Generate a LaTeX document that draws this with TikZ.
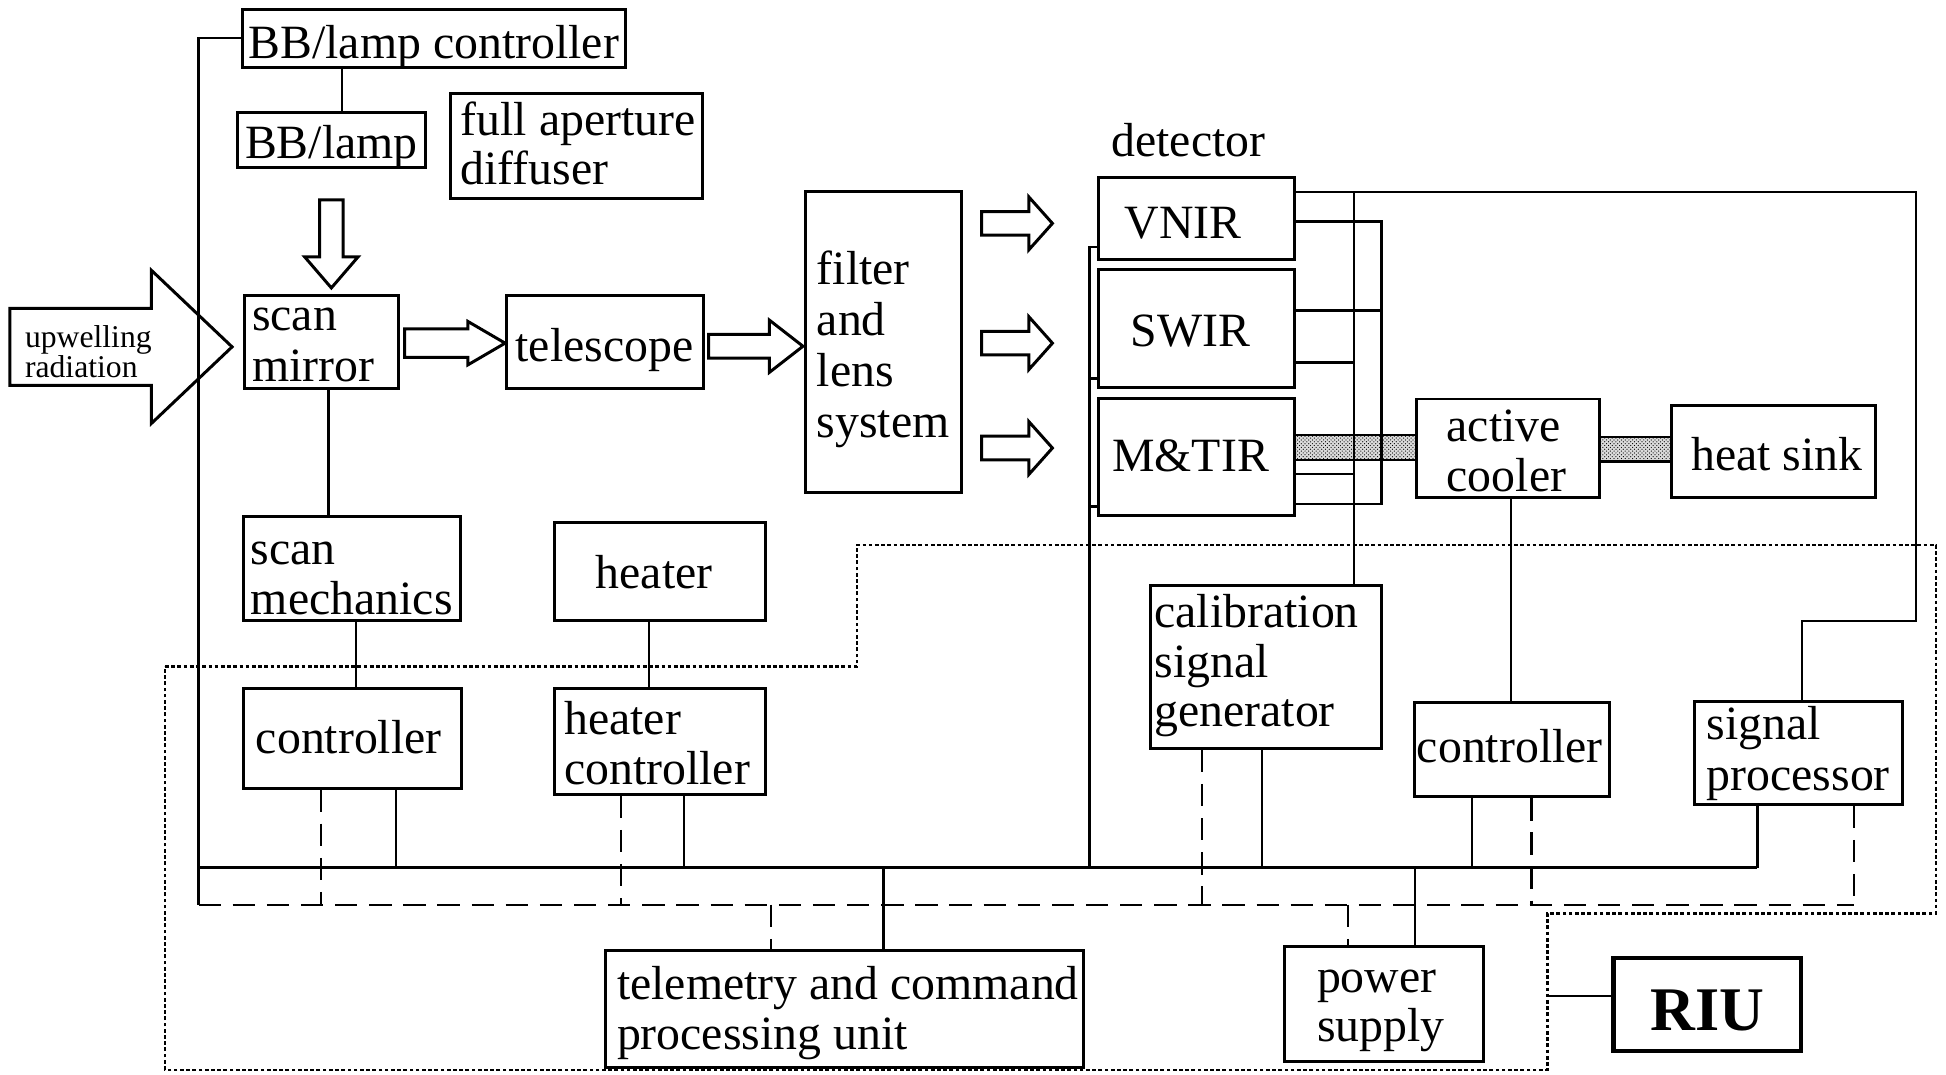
\documentclass[tikz,border=0pt]{standalone}
\usepackage{fontspec}
\setmainfont{Liberation Serif}
\usetikzlibrary{calc,patterns}

\newcommand\lbl{\fontsize{38.5pt}{41pt}\selectfont}
\newcommand\slbl{\fontsize{25.5pt}{25pt}\selectfont}
\newcommand\riuf{\fontsize{50pt}{50pt}\selectfont\bfseries}

% box node from its corners: [options]{name}{x1}{y1}{x2}{y2}
\newcommand\cbox[6][]{%
  \pgfmathsetmacro\bxcx{(#3+#5)/2}%
  \pgfmathsetmacro\bxcy{(#4+#6)/2}%
  \pgfmathsetmacro\bxw{#5-#3}%
  \pgfmathsetmacro\bxh{#6-#4}%
  \node[box,minimum width=\bxw pt,minimum height=\bxh pt,#1] (#2) at (\bxcx,\bxcy) {};}

% hollow block arrow pointing right: {tail}{tip}{shaft half}{head half}{head length}
\newcommand\rblock[5]{%
  \draw[hollow] let \p1=(#1), \p2=(#2) in
    (\x1,\y2+#3pt) -- (\x2-#5pt,\y2+#3pt) -- (\x2-#5pt,\y2+#4pt) -- (\x2,\y2)
    -- (\x2-#5pt,\y2-#4pt) -- (\x2-#5pt,\y2-#3pt) -- (\x1,\y2-#3pt) -- cycle;}
% hollow block arrow pointing down
\newcommand\dblock[5]{%
  \draw[hollow] let \p1=(#1), \p2=(#2) in
    (\x2-#3pt,\y1) -- (\x2-#3pt,\y2+#5pt) -- (\x2-#4pt,\y2+#5pt) -- (\x2,\y2)
    -- (\x2+#4pt,\y2+#5pt) -- (\x2+#3pt,\y2+#5pt) -- (\x2+#3pt,\y1) -- cycle;}

\begin{document}
\begin{tikzpicture}[x=1pt,y=-1pt,
  box/.style={draw,line width=2.4pt,inner sep=0pt,fill=white},
  txt/.style={font=\lbl,inner sep=0pt,anchor=base west,yshift=-2.5pt},
  ctxt/.style={font=\lbl,inner sep=0pt,anchor=base,yshift=-2.5pt},
  wire/.style={line width=1.9pt,line join=miter},
  dwire/.style={line width=1.9pt,dash pattern=on 18pt off 9.5pt},
  border/.style={line width=2.1pt,dash pattern=on 3pt off 2pt},
  hollow/.style={draw,line width=2.4pt,fill=white,line join=miter},
  heatfill/.style={fill=black!14},
  heatbar/.style={pattern=crosshatch dots,pattern color=black},
]
\useasboundingbox (0,0) rectangle (1568,866);
\fill[white] (0,0) rectangle (1568,866);

% ---------- blocks ----------
\cbox{bbctl}{195}{7.5}{504}{54}
\cbox{bblamp}{191}{91}{343}{135}
\cbox{diff}{363}{75}{566}{160}
\cbox{scanm}{197}{238}{321}{313}
\cbox{tele}{408}{238}{567}{313}
\cbox{filt}{649}{154}{775}{397}
\cbox{vnir}{885}{143}{1043}{209}
\cbox{swir}{885}{217}{1043}{312}
\cbox{mtir}{885}{321}{1043}{415}
\cbox{cool}{1141}{321.5}{1289}{401}
\cbox{sink}{1347}{327}{1511}{401}
\cbox{mech}{196}{416}{371}{500}
\cbox{heat}{447}{421}{617}{500}
\cbox{calib}{927}{472}{1113}{603}
\cbox{ctlL}{196}{555}{372}{635}
\cbox{hctl}{447}{555}{617}{640}
\cbox{ctlR}{1140}{566}{1297}{642}
\cbox{sigp}{1365}{565}{1533}{648}
\cbox{tcpu}{488}{766}{873}{860}
\cbox{psu}{1035}{763}{1195}{855}
\cbox[line width=3.4pt]{riu}{1300}{772}{1451}{847}

% ---------- wire positions ----------
\coordinate (busSL) at (160,699);
\coordinate (busSR) at (1416,699);
\coordinate (busDL) at (160,729);
\coordinate (busDR) at (1494,729);
\foreach \n/\v in {xa/275.6,xb/264.8,xc/287,xd/523,xe/319,xf/258.6,xg/551,xh/500.5,
                   xi/712,xj/621,xk/878,xl/1017,xm/968.6,xn/1186,xo/1234,xr/1140,
                   xs/1086,xt/1217.6,xu/1452,xv/1091,xw/1113,xz/1246.7}
  \coordinate (\n) at (\v,0);
\foreach \n/\v in {ya/199,yb/305,yc/408,y1/154.5,y2/178.6,y3/250.3,y4/292,y5/382,
                   y7/406,yR/802.6,hb1t/350.5,hb1b/370.7,hb2t/352,hb2b/372}
  \coordinate (\n) at (0,\v);
\coordinate (c1) at (1543.7,500.4);

% ---------- electronics boundary ----------
\draw[border] (133,537) -- (690.6,537) -- (690.6,439) -- (1560,439) -- (1560,736)
  -- (1246.7,736) -- (1246.7,862) -- (133,862) -- cycle;

% ---------- thermal links ----------
\path[heatfill] (mtir.east |- hb1t) rectangle (cool.west |- hb1b);
\path[heatbar] (mtir.east |- hb1t) rectangle (cool.west |- hb1b);
\draw[wire] (mtir.east |- hb1t) -- (cool.west |- hb1t) (mtir.east |- hb1b) -- (cool.west |- hb1b);
\path[heatfill] (cool.east |- hb2t) rectangle (sink.west |- hb2b);
\path[heatbar] (cool.east |- hb2t) rectangle (sink.west |- hb2b);
\draw[wire] (cool.east |- hb2t) -- (sink.west |- hb2t) (cool.east |- hb2b) -- (sink.west |- hb2b);

% ---------- optical path ----------
\coordinate (upT) at (8,279.5);   \coordinate (upH) at (187,279.5);
\coordinate (dnT) at (267,161);   \coordinate (dnH) at (267,232);
\coordinate (a1T) at (326,276.5); \coordinate (a1H) at (407,276.5);
\coordinate (a2T) at (571,279);   \coordinate (a2H) at (647,279);
\coordinate (d1T) at (791,180);   \coordinate (d1H) at (848,180);
\coordinate (d2T) at (791,276.5); \coordinate (d2H) at (848,276.5);
\coordinate (d3T) at (791,361);   \coordinate (d3H) at (848,361);
\rblock{upT}{upH}{31}{61.7}{65}
\dblock{dnT}{dnH}{9.5}{21.5}{25}
\rblock{a1T}{a1H}{11.5}{17.5}{30}
\rblock{a2T}{a2H}{9.5}{21}{27}
\rblock{d1T}{d1H}{9.5}{21.3}{19}
\rblock{d2T}{d2H}{9.5}{21.3}{19}
\rblock{d3T}{d3H}{9.5}{21.3}{19}

% ---------- wiring ----------
\draw[wire] (bbctl.west) -| (busDL);
\draw[wire] (busSL) -- (busSR);
\draw[dwire] (busDL) -- (busDR);
\draw[wire] (bbctl.south -| xa) -- (bblamp.north -| xa);
\draw[wire] (scanm.south -| xb) -- (mech.north -| xb);
\draw[wire] (mech.south -| xc) -- (ctlL.north -| xc);
\draw[wire] (heat.south -| xd) -- (hctl.north -| xd);
\draw[wire] (ctlL.south -| xe) -- (busSL -| xe);
\draw[dwire] (ctlL.south -| xf) -- (busDL -| xf);
\draw[wire] (hctl.south -| xg) -- (busSL -| xg);
\draw[dwire] (hctl.south -| xh) -- (busDL -| xh);
\draw[wire] (busSL -| xi) -- (tcpu.north -| xi);
\draw[dwire] (busDL -| xj) -- (tcpu.north -| xj);
\draw[wire] (vnir.west |- ya) -| (busSL -| xk);
\draw[wire] (swir.west |- yb) -- (xk |- yb);
\draw[wire] (mtir.west |- yc) -- (xk |- yc);
\draw[wire] (calib.south -| xl) -- (busSL -| xl);
\draw[dwire] (calib.south -| xm) -- (busDL -| xm);
\draw[wire] (ctlR.south -| xn) -- (busSL -| xn);
\draw[dwire] (ctlR.south -| xo) -- (busDL -| xo);
\draw[wire] (sigp.south -| busSR) -- (busSR);
\draw[dwire] (sigp.south -| busDR) -- (busDR);
\draw[wire] (busSL -| xr) -- (psu.north -| xr);
\draw[dwire] (busDL -| xs) -- (psu.north -| xs);
\draw[wire] (cool.south -| xt) -- (ctlR.north -| xt);
\draw[wire] (vnir.east |- y1) -| (c1) -| (sigp.north -| xu);
\draw[wire] (xv |- y1) -- (calib.north -| xv);
\draw[wire] (vnir.east |- y2) -| (xw |- y7) -- (mtir.east |- y7);
\draw[wire] (swir.east |- y3) -- (xw |- y3);
\draw[wire] (swir.east |- y4) -- (xv |- y4);
\draw[wire] (mtir.east |- y5) -- (xv |- y5);
\draw[wire] (riu.west |- yR) -- (xz |- yR);

% ---------- labels ----------
\node[txt,font=\slbl] (tup1) at (20,277.5) {upwelling};
\node[txt,font=\slbl] (tup2) at (20,302) {radiation};
\node[ctxt] (tbbctl) at (349.5,45) {BB/lamp controller};
\node[ctxt] (tbblamp) at (267,125) {BB/lamp};
\node[txt] (tdiff1) at (371,107) {full aperture};
\node[txt] (tdiff2) at (371,146) {diffuser};
\node[txt] (tscanm1) at (203,264) {scan};
\node[txt] (tscanm2) at (203,305) {mirror};
\node[ctxt] (ttele) at (487,289) {telescope};
\node[txt] (tfilt1) at (658,227) {filter};
\node[txt] (tfilt2) at (658,268) {and};
\node[txt] (tfilt3) at (658,309) {lens};
\node[txt] (tfilt4) at (658,350) {system};
\node[ctxt] (tdet) at (957.5,123.5) {detector};
\node[txt] (tvnir) at (906,189.5) {VNIR};
\node[txt] (tswir) at (911,276.7) {SWIR};
\node[txt] (tmtir) at (896,377.5) {M\&TIR};
\node[txt] (tcool1) at (1165.5,353) {active};
\node[txt] (tcool2) at (1165.5,393.5) {cooler};
\node[txt] (tsink) at (1362.5,377) {heat sink};
\node[txt] (tmech1) at (202,452.7) {scan};
\node[txt] (tmech2) at (202,492.4) {mechanics};
\node[ctxt] (theat) at (527,472) {heater};
\node[txt] (tctlL) at (206,605) {controller};
\node[txt] (thctl1) at (454.5,589.5) {heater};
\node[txt] (thctl2) at (454.5,630) {controller};
\node[txt] (tcal1) at (930,503) {calibration};
\node[txt] (tcal2) at (930,543) {signal};
\node[txt] (tcal3) at (930,583) {generator};
\node[txt] (tctlR) at (1141.5,611.6) {controller};
\node[txt] (tsig1) at (1375,593) {signal};
\node[txt] (tsig2) at (1375,634.6) {processor};
\node[txt] (ttcpu1) at (497,802.5) {telemetry and command};
\node[txt] (ttcpu2) at (497,843) {processing unit};
\node[txt] (tpsu1) at (1061,797) {power};
\node[txt] (tpsu2) at (1061,836.7) {supply};
\node[ctxt,font=\riuf] (triu) at (1375.5,828) {RIU};
\end{tikzpicture}
\end{document}
